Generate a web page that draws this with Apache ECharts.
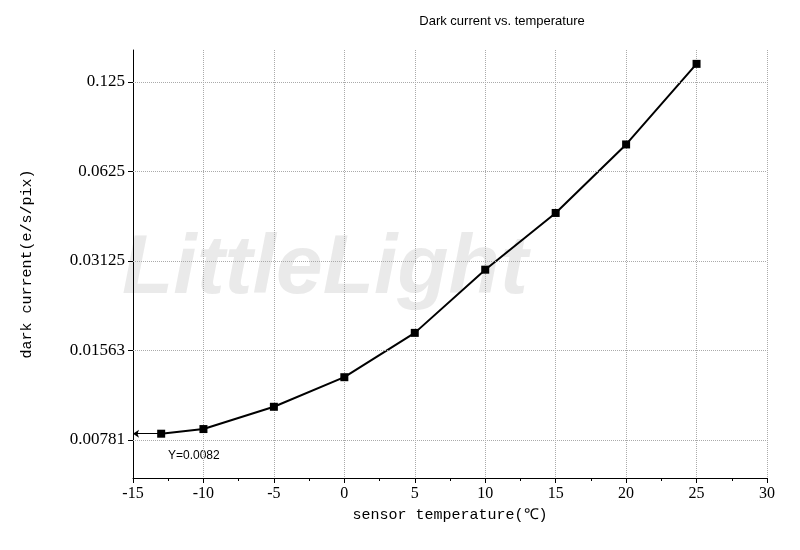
<!DOCTYPE html>
<html><head><meta charset="utf-8">
<script src="https://cdn.jsdelivr.net/npm/echarts@6/dist/echarts.min.js"></script>
<style>body{margin:0;background:#fff}#c{width:800px;height:550px}</style>
</head><body><div id="c"></div>
<script>
const temps = [-13, -10, -5, 0, 5, 10, 15, 20, 25];
const current = [0.0082, 0.0085, 0.0101, 0.0127, 0.0179, 0.0292, 0.0453, 0.0770, 0.1437];
const yTickValues = [0.00781, 0.01563, 0.03125, 0.0625, 0.125];
const yTickLabels = ['0.00781', '0.01563', '0.03125', '0.0625', '0.125'];

// axe log2 simulé sur un axe value
const lg = v => Math.log2(v);
const yTicks = yTickValues.map(lg);

const chart = echarts.init(document.getElementById('c'));
chart.setOption({
  animation: false,
  title: { text: 'Dark current vs. temperature', left: 497, top: 10, textAlign: 'center',
    textStyle: { fontFamily: 'Liberation Sans', fontSize: 13, fontWeight: 'normal', color: '#000' } },
  graphic: [
    { type: 'text', left: 122, top: 228, z: 0, style: { text: 'LittleLight', fontSize: 84, fontStyle: 'italic',
      fontWeight: 'bold', fontFamily: 'Liberation Sans', fill: 'rgba(195,195,195,0.35)', letterSpacing: 14 } },
    { type: 'text', left: 168, top: 450, style: { text: 'Y=0.0082', fontSize: 12, fontFamily: 'Liberation Sans', fill: '#000' } }
  ],
  grid: { left: 133, right: 33, top: 50, bottom: 72 },
  xAxis: {
    type: 'value', min: -15, max: 30, interval: 5,
    name: 'sensor temperature(℃)', nameLocation: 'middle', nameGap: 30,
    nameTextStyle: { fontFamily: 'Liberation Mono', fontSize: 15, color: '#000' },
    axisLine: { onZero: false, lineStyle: { color: '#000' } },
    axisTick: { inside: false, length: 5, lineStyle: { color: '#000' } },
    minorTick: { show: true, splitNumber: 2, length: 3, lineStyle: { color: '#000' } },
    axisLabel: { fontFamily: 'Liberation Serif', fontSize: 16, color: '#000' },
    splitLine: { show: true, lineStyle: { color: '#aaa', type: 'dotted' } }
  },
  yAxis: {
    type: 'value', min: -7.425, max: -2.644,
    name: 'dark current(e/s/pix)', nameLocation: 'middle', nameGap: 98,
    nameTextStyle: { fontFamily: 'Liberation Mono', fontSize: 15, color: '#000' },
    axisLine: { show: true, onZero: false, lineStyle: { color: '#000' } },
    axisTick: { show: true, length: 5, customValues: yTicks, lineStyle: { color: '#000' } },
    axisLabel: { fontFamily: 'Liberation Serif', fontSize: 17, color: '#000', customValues: yTicks,
      formatter: v => { const i = yTicks.findIndex(t => Math.abs(t - v) < 1e-6); return i >= 0 ? yTickLabels[i] : ''; } },
    splitLine: { show: false }
  },
  series: [{
    type: 'line', data: temps.map((t, i) => [t, lg(current[i])]),
    symbol: 'rect', symbolSize: 8,
    lineStyle: { color: '#000', width: 2 }, itemStyle: { color: '#000' },
    markLine: {
      silent: true, symbol: 'none', label: { show: false },
      data: yTicks.map(v => ({ yAxis: v, lineStyle: { color: '#aaa', type: 'dotted', width: 1 } }))
        .concat([[{ coord: [-13, lg(current[0])], symbol: 'none' },
                  { coord: [-15, lg(current[0])], symbol: 'arrow', symbolSize: 6,
                    lineStyle: { color: '#000', type: 'solid', width: 1 } }]])
    }
  }]
});
</script></body></html>
